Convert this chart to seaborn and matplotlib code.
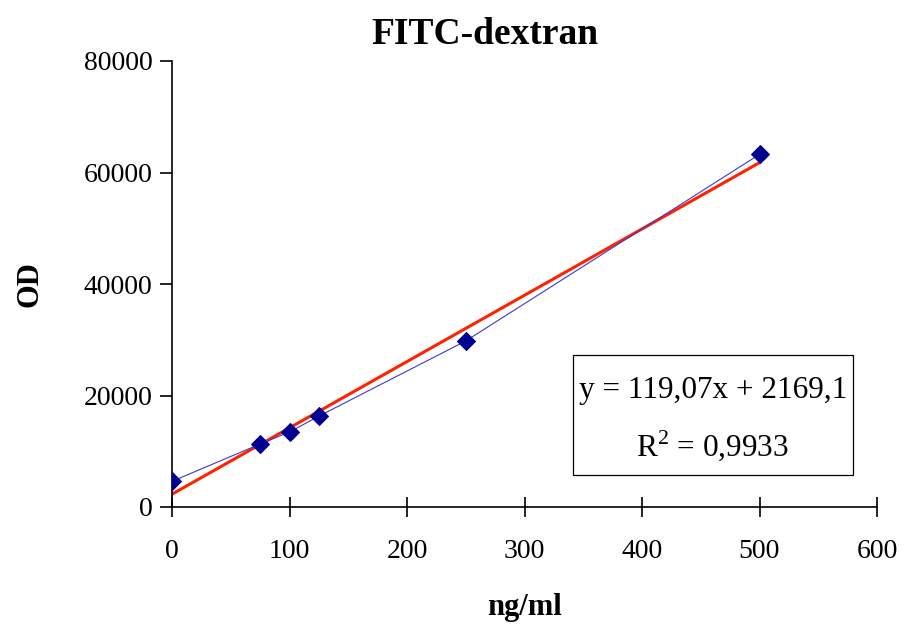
import matplotlib
matplotlib.use("Agg")
import matplotlib.pyplot as plt
from matplotlib.patches import Rectangle
import seaborn as sns
import pandas as pd

conc = [0, 75, 100, 125, 250, 500]
od = [4600, 11300, 13450, 16300, 29780, 63250]
x_ticks = [0, 100, 200, 300, 400, 500, 600]
y_ticks = [0, 20000, 40000, 60000, 80000]
eq_text = "y = 119,07x + 2169,1"
r2_text = r"R$^2$ = 0,9933"

sns.set_style("white")
plt.rcParams["font.family"] = ["Liberation Serif", "DejaVu Serif"]
plt.rcParams["mathtext.fontset"] = "custom"
plt.rcParams["mathtext.rm"] = "Liberation Serif"
plt.rcParams["text.color"] = "black"
plt.rcParams["axes.labelcolor"] = "black"

df = pd.DataFrame({"conc": conc, "od": od})

fig = plt.figure(figsize=(9.02, 6.28), dpi=100)
ax = fig.add_axes([172 / 902, 1 - 507 / 628, (877 - 172) / 902, (507 - 61) / 628])

sns.lineplot(data=df, x="conc", y="od", ax=ax, color="#3a3ad0", linewidth=0.8,
             marker="D", markersize=9, markerfacecolor="#000090",
             markeredgecolor="#000090", zorder=3)
sns.regplot(data=df, x="conc", y="od", ax=ax, ci=None, scatter=False, truncate=True,
            line_kws={"color": "#ff2200", "linewidth": 2.2, "zorder": 2})

ax.set_xlim(0, 600)
ax.set_ylim(0, 80000)
ax.set_xticks(x_ticks)
ax.set_yticks(y_ticks)
ax.set_xticklabels([str(v) for v in x_ticks])
ax.set_yticklabels([str(v) for v in y_ticks])
ax.tick_params(axis="both", labelsize=20, colors="black", bottom=True, left=True)
ax.tick_params(axis="x", direction="inout", length=14, width=1.2, pad=16)
ax.tick_params(axis="y", direction="out", length=9, width=1.2, pad=5)
for s in ["top", "right"]:
    ax.spines[s].set_visible(False)
for s in ["left", "bottom"]:
    ax.spines[s].set_color("black")
    ax.spines[s].set_linewidth(1.2)

ax.set_xlabel("ng/ml", fontsize=22, fontweight="bold", labelpad=21)
ax.set_ylabel("OD", fontsize=22, fontweight="bold", labelpad=28)
ax.set_title("FITC-dextran", fontsize=27, fontweight="bold", pad=12, x=0.444)

ax.add_patch(Rectangle((0.569, 0.0717), 0.397, 0.269, transform=ax.transAxes,
                       facecolor="white", edgecolor="black", linewidth=0.9, zorder=5))
ax.text(0.767, 0.262, eq_text, transform=ax.transAxes, ha="center", va="center",
        fontsize=22.5, zorder=6)
ax.text(0.767, 0.137, r2_text, transform=ax.transAxes, ha="center", va="center",
        fontsize=22.5, zorder=6)

fig.savefig("out.png", dpi=100)
